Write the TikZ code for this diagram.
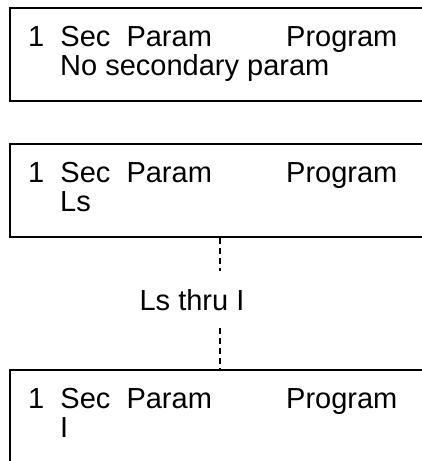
\documentclass[tikz,border=0pt]{standalone}
\usepackage{fontspec}
\setmainfont{Liberation Sans}
\usepackage{tikz}
\usetikzlibrary{positioning, calc}

\begin{document}
\begin{tikzpicture}[
    x=1pt, y=1pt,
    panel/.style={rectangle, draw=black, line width=1.8pt, anchor=north west,
                  minimum width=440pt, minimum height=93pt, inner sep=0pt},
    entry/.style={font=\fontsize{29pt}{33pt}\selectfont, inner sep=0pt,
                  anchor=base west},
    link/.style={line width=1.4pt, dash pattern=on 6pt off 4pt}
]
\useasboundingbox (0,0) rectangle (422,-461);
\clip (0,0) rectangle (422,-461);
% the three parameter panels
\foreach \name/\y/\val in {none/7/No secondary param, first/143/Ls, last/369/I} {
    \node[panel] (\name) at (9,-\y) {};
    \node[entry] (\name head) at ($(\name.north west)+(19,-39)$) {1~~Sec~~Param};
    \node[entry] (\name prog) at ($(\name.north west)+(277,-39)$) {Program};
    \node[entry] (\name val) at ($(\name.north west)+(51,-68)$) {\val};
}
\node[entry, anchor=base, outer ysep=18pt] (range) at (192,-310) {Ls thru I};
\coordinate (axis) at (220,0);
\draw[link] (first.south -| axis) -- (range.north -| axis);
\draw[link] (range.south -| axis) -- (last.north -| axis);
\end{tikzpicture}
\end{document}
